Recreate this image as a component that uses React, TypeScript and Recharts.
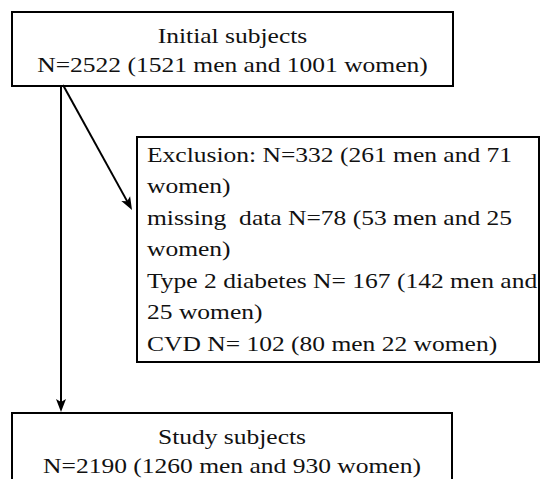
import { ComposedChart, ReferenceArea, ReferenceLine, XAxis, YAxis } from "recharts";

// counts: [total, men, women]
const initialCounts = [2522, 1521, 1001];
const exclusionCounts = [332, 261, 71];
const missingCounts = [78, 53, 25];
const diabetesCounts = [167, 142, 25];
const cvdCounts = [102, 80, 22];
const studyCounts = [2190, 1260, 930];

const boxTitles = ["Initial subjects", "Study subjects"];

const initialLines = [
  boxTitles[0],
  `N=${initialCounts[0]} (${initialCounts[1]} men and ${initialCounts[2]} women)`,
];
const exclusionLines = [
  `Exclusion: N=${exclusionCounts[0]} (${exclusionCounts[1]} men and ${exclusionCounts[2]}`,
  "women)",
  `missing  data N=${missingCounts[0]} (${missingCounts[1]} men and ${missingCounts[2]}`,
  "women)",
  `Type 2 diabetes N= ${diabetesCounts[0]} (${diabetesCounts[1]} men and`,
  `${diabetesCounts[2]} women)`,
  `CVD N= ${cvdCounts[0]} (${cvdCounts[1]} men ${cvdCounts[2]} women)`,
];
const studyLines = [
  boxTitles[1],
  `N=${studyCounts[0]} (${studyCounts[1]} men and ${studyCounts[2]} women)`,
];

const W = 540;
const H = 479;
const SX = 1.16; // widen the serif to look like the Garamond in the original
const FONT = "'Liberation Serif', 'Times New Roman', serif";

// box that draws its own text lines
const makeBox =
  (lines: string[], align: "center" | "left", firstOffset: number, gap: number) =>
  (props: any) => {
    const { x, y, width, height } = props;
    const tx = align === "center" ? x + width / 2 : x + 10;
    return (
      <g>
        <rect x={x} y={y} width={width} height={height} fill="#fff" stroke="#000" strokeWidth={2} />
        {lines.map((line, i) => (
          <text
            key={i}
            x={tx / SX}
            y={y + firstOffset + i * gap}
            transform={`scale(${SX},1)`}
            textAnchor={align === "center" ? "middle" : "start"}
            fontFamily={FONT}
            fontSize={22}
            fill="#111"
            style={{ whiteSpace: "pre" }}
          >
            {line}
          </text>
        ))}
      </g>
    );
  };

// line with a filled arrowhead at the end
const Arrow = (props: any) => {
  const { x1, y1, x2, y2 } = props;
  const dx = x2 - x1;
  const dy = y2 - y1;
  const len = Math.sqrt(dx * dx + dy * dy) || 1;
  const ux = dx / len;
  const uy = dy / len;
  const hl = 13;
  const hw = 5;
  const bx = x2 - ux * hl;
  const by = y2 - uy * hl;
  const pts = `${x2},${y2} ${bx - uy * hw},${by + ux * hw} ${bx + ux * 3},${by + uy * 3} ${bx + uy * hw},${by - ux * hw}`;
  return (
    <g>
      <line x1={x1} y1={y1} x2={bx + ux * 4} y2={by + uy * 4} stroke="#000" strokeWidth={2} />
      <polygon points={pts} fill="#000" />
    </g>
  );
};

export default function App() {
  return (
    <div style={{ position: "absolute", left: 0, top: 0, background: "#fff" }}>
      <ComposedChart width={W} height={H} data={[]} margin={{ top: 0, right: 0, bottom: 0, left: 0 }}>
        <XAxis type="number" dataKey="x" domain={[0, W]} hide allowDataOverflow />
        <YAxis type="number" dataKey="y" domain={[0, H]} reversed hide allowDataOverflow />

        <ReferenceLine
          segment={[{ x: 61, y: 85 }, { x: 61, y: 412 }]}
          ifOverflow="visible"
          shape={Arrow}
        />
        <ReferenceLine
          segment={[{ x: 63, y: 85 }, { x: 132, y: 210 }]}
          ifOverflow="visible"
          shape={Arrow}
        />

        <ReferenceArea
          x1={12}
          x2={453}
          y1={12}
          y2={86}
          ifOverflow="visible"
          shape={makeBox(initialLines, "center", 31, 29)}
        />
        <ReferenceArea
          x1={137}
          x2={539}
          y1={137}
          y2={362}
          ifOverflow="visible"
          shape={makeBox(exclusionLines, "left", 25, 31.5)}
        />
        <ReferenceArea
          x1={12}
          x2={452}
          y1={413}
          y2={500}
          ifOverflow="visible"
          shape={makeBox(studyLines, "center", 31, 29)}
        />
      </ComposedChart>
    </div>
  );
}
